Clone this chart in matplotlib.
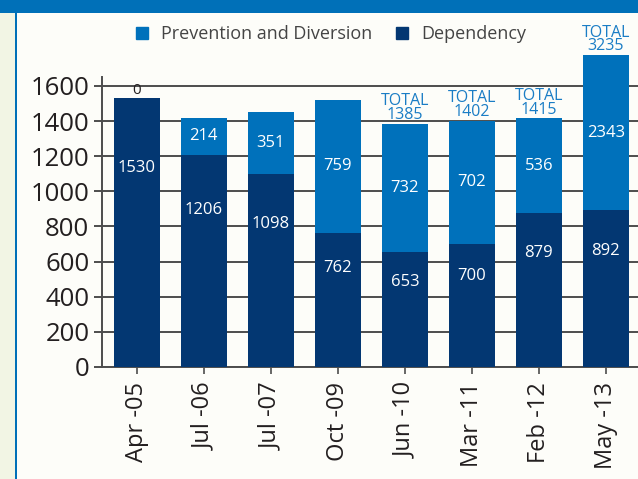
import matplotlib.pyplot as plt
from matplotlib.patches import Rectangle
from matplotlib.lines import Line2D

plt.rcParams['font.family'] = ['Open Sans', 'DejaVu Sans']

months = ['Apr -05', 'Jul -06', 'Jul -07', 'Oct -09', 'Jun -10', 'Mar -11', 'Feb -12', 'May -13']
dependency = [1530, 1206, 1098, 762, 653, 700, 879, 892]
prevention = [0, 214, 351, 759, 732, 702, 536, 2343]
totals_shown = [None, None, None, None, 1385, 1402, 1415, 3235]

c_prev = '#0071BB'
c_dep = '#033772'
c_text = '#231F20'
ymax = 1776

fig = plt.figure(figsize=(6.38, 4.79), dpi=100, facecolor='#F2F5E4')
# panel, top band and left rule
fig.patches.append(Rectangle((17/638, 0), 1, (479-13)/479, transform=fig.transFigure,
                             facecolor='#FDFDF9', edgecolor='none', zorder=-3))
fig.patches.append(Rectangle((0, (479-13)/479), 1, 13/479, transform=fig.transFigure,
                             facecolor='#0070B8', edgecolor='none', zorder=-2))
fig.patches.append(Rectangle((15/638, 0), 2/638, 1, transform=fig.transFigure,
                             facecolor='#0070B8', edgecolor='none', zorder=-2))

ax = fig.add_axes([102/638, (479-367)/479, 1 - 102/638, (367-55)/479])
ax.set_facecolor('none')
ax.set_zorder(2)

x = range(len(months))
ax.bar(x, dependency, width=0.69, color=c_dep, zorder=3)
ax.bar(x, prevention, width=0.69, bottom=dependency, color=c_prev, zorder=3)

ax.set_xlim(-0.52, 7.48)
ax.set_ylim(0, ymax)
ax.set_yticks(range(0, 1601, 200))
ax.yaxis.grid(True, color='#4D4D4D', linewidth=1.4, zorder=1)
ax.tick_params(axis='y', labelsize=18.5, colors=c_text, length=6, width=1.4, color='#4D4D4D', pad=3)
ax.set_xticks(list(x))
ax.set_xticklabels(months, rotation=90, fontsize=17, color=c_text)
ax.tick_params(axis='x', length=5, width=1.2, color='#4D4D4D', pad=6)
for s in ['top', 'right']:
    ax.spines[s].set_visible(False)
ax.spines['left'].set_color('#4D4D4D')
ax.spines['left'].set_linewidth(1.4)
ax.spines['left'].set_bounds(0, 1650)
ax.spines['bottom'].set_color('#4D4D4D')
ax.spines['bottom'].set_linewidth(1.4)

for i in x:
    d = dependency[i]
    p = prevention[i]
    ax.text(i, d * 0.74, str(d), ha='center', va='center', color='white', fontsize=12, zorder=4)
    top = d + p
    if p > 0:
        vis_top = min(top, ymax)
        ax.text(i, (d + vis_top) / 2, str(p), ha='center', va='center', color='white',
                fontsize=12, zorder=4)
    else:
        ax.text(i, top, str(p), ha='center', va='bottom', color=c_text, fontsize=11, zorder=4)
    if totals_shown[i] is not None:
        ax.text(i, min(totals_shown[i], ymax) + 5, 'TOTAL\n' + str(totals_shown[i]),
                ha='center', va='bottom', color='#1A7DC5', fontsize=11.5, linespacing=0.8,
                zorder=5, clip_on=False)

handles = [Line2D([], [], marker='s', linestyle='none', markersize=8, color=c_prev),
           Line2D([], [], marker='s', linestyle='none', markersize=8, color=c_dep)]
fig.legend(handles, ['Prevention and Diversion', 'Dependency'], loc='center',
           bbox_to_anchor=(0.515, 1 - 34/479), ncol=2, frameon=False, fontsize=13,
           labelcolor='#444444', handletextpad=0.5, handlelength=1.2, columnspacing=1.0)

fig.savefig('out.png', dpi=100, facecolor=fig.get_facecolor())
